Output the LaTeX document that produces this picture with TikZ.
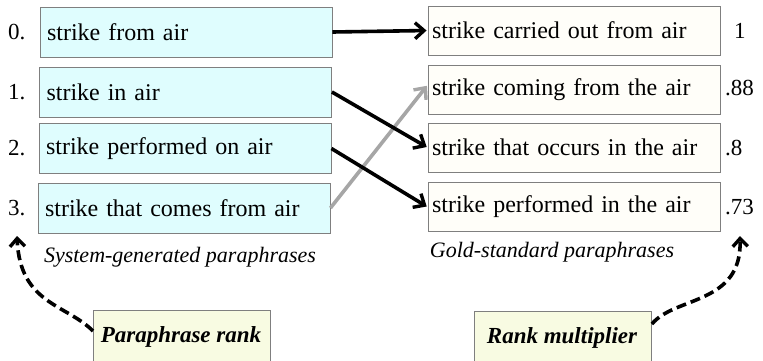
\documentclass[tikz,border=0pt]{standalone}
\usepackage{fontspec}
\setmainfont{Liberation Serif}
\usetikzlibrary{arrows.meta}
\definecolor{sysfill}{HTML}{DFFDFE}
\definecolor{goldfill}{HTML}{FFFEF9}
\definecolor{notefill}{HTML}{F8FBE2}
\definecolor{boxline}{HTML}{7F7F7F}
\definecolor{lightarrow}{HTML}{A6A6A6}
\tikzset{
  sysbox/.style={draw=boxline, line width=0.9pt, fill=sysfill, minimum width=292pt, minimum height=50pt,
    text width=278pt, inner xsep=7pt, align=left, font=\fontsize{24}{26}\selectfont},
  goldbox/.style={draw=boxline, line width=0.9pt, fill=goldfill, minimum width=292pt, minimum height=49pt,
    text width=284pt, inner xsep=4pt, align=left, font=\fontsize{24}{26}\selectfont},
  notebox/.style={draw=boxline, line width=0.9pt, fill=notefill, minimum width=177pt, minimum height=60pt},
  numlabel/.style={anchor=west, inner sep=0pt, font=\fontsize{23}{26}\selectfont},
  caption/.style={font=\fontsize{22}{24}\selectfont\itshape},
  notetext/.style={font=\fontsize{23}{26}\selectfont\bfseries\itshape},
  link/.style={line width=3.6pt, shorten >=1pt, -{Straight Barb[length=9pt,width=16pt,line width=3.4pt]}},
  pointer/.style={line width=3.6pt, dash pattern=on 10pt off 5pt,
    -{Straight Barb[length=8pt,width=15pt,line width=3.4pt]}}
}
\begin{document}
\begin{tikzpicture}[x=1pt,y=-1pt]
\useasboundingbox (0,0) rectangle (763,360);

% system-generated paraphrases, in rank order
\node[sysbox] (s0) at (186,32)  {strike from air};
\node[sysbox] (s1) at (185.5,92) {strike in air};
\node[sysbox] (s2) at (185,148.5) {strike performed on air};
\node[sysbox] (s3) at (184,208) {strike that comes from air};
\node[numlabel] (n0) at (8,32)  {0.};
\node[numlabel] (n1) at (8,92)  {1.};
\node[numlabel] (n2) at (8,148) {2.};
\node[numlabel] (n3) at (8,208) {3.};

% gold-standard paraphrases with their multipliers
\node[goldbox] (g0) at (574,30.5) {strike carried out from air};
\node[goldbox] (g1) at (574,90)   {strike coming from the air};
\node[goldbox] (g2) at (574,147.5) {strike that occurs in the air};
\node[goldbox] (g3) at (574,207)  {strike performed in the air};
\node[numlabel] (m0) at (734,31)  {1};
\node[numlabel] (m1) at (725,88)  {.88};
\node[numlabel] (m2) at (725,148) {.8};
\node[numlabel] (m3) at (725,207) {.73};

% captions
\node[caption] (capL) at (180,257) {System-generated paraphrases};
\node[caption] (capR) at (552,252) {Gold-standard paraphrases};

% notes at the bottom (cut off by the page edge)
\node[notebox, anchor=north west] (rank) at (93,310) {};
\node[notetext] (rankt) at (181,337) {Paraphrase rank};
\node[notebox, anchor=north west] (mult) at (474,311) {};
\node[notetext] (multt) at (562,338) {Rank multiplier};

% matches between the two lists
\draw[link, lightarrow] (s3.east) -- ([yshift=5pt]g1.west);
\draw[link] (s0.east) -- (g0.west);
\draw[link] (s1.east) -- (g2.west);
\draw[link] (s2.east) -- (g3.west);

% dashed pointers from the notes
\coordinate (rankTip) at (17,236);
\coordinate (multTip) at (740,236);
\draw[pointer] ([yshift=-21pt]rank.north west) .. controls (66,304) and (20,304) .. (rankTip);
\draw[pointer] ([yshift=-13pt]mult.north east) .. controls (675,296) and (742,305) .. (multTip);
\end{tikzpicture}
\end{document}
